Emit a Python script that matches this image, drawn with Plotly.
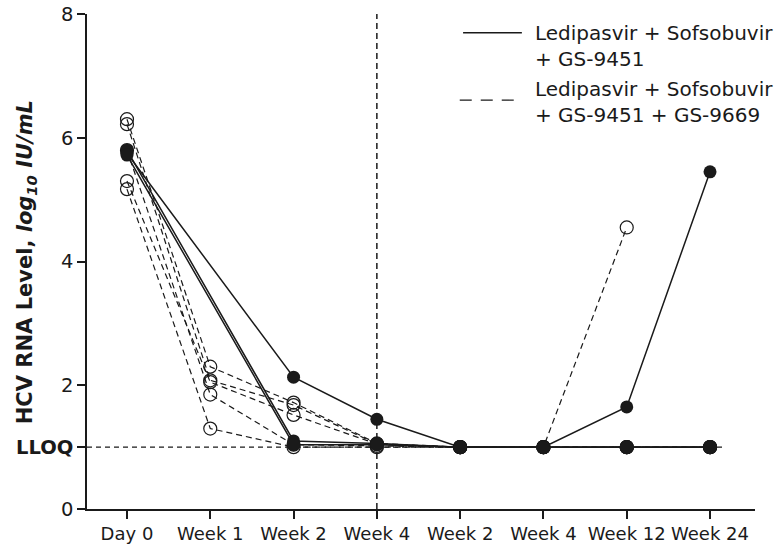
import plotly.graph_objects as go

# Visit schedule: on-treatment (Day 0 .. Week 4) then post-treatment follow-up
x_positions = [0, 1, 2, 3, 4, 5, 6, 7]
tick_labels = ["Day 0", "Week 1", "Week 2", "Week 4", "Week 2", "Week 4", "Week 12", "Week 24"]

# log10 IU/mL per patient; None = no measurement at that visit
lloq = 1.0
triple_patients = [
    [5.75, None, 2.13, 1.45, 1.0, 1.0, 1.0, 1.0],
    [5.80, None, 1.10, 1.06, 1.0, 1.0, 1.65, 5.45],
    [5.72, None, 1.04, 1.04, 1.0, 1.0, 1.0, 1.0],
]
quad_patients = [
    [6.30, 2.30, 1.72, 1.06, 1.0, 1.0, 1.0, 1.0],
    [6.22, 2.08, 1.68, 1.05, 1.0, 1.0, 4.55, None],
    [5.30, 2.05, 1.52, 1.05, 1.0, 1.0, 1.0, 1.0],
    [5.80, 1.85, 1.04, 1.02, 1.0, 1.0, 1.0, 1.0],
    [5.17, 1.30, 1.00, 1.00, 1.0, 1.0, 1.0, 1.0],
]
legend_labels = ["Ledipasvir + Sofsobuvir<br>+ GS-9451",
                 "Ledipasvir + Sofsobuvir<br>+ GS-9451 + GS-9669"]

FONT = "DejaVu Sans"
INK = "#1a1a1a"

fig = go.Figure()

# GS-9669 arm: dashed lines, open circles (drawn underneath)
for vals in quad_patients:
    fig.add_trace(go.Scatter(
        x=x_positions, y=vals, mode="lines+markers", connectgaps=True,
        line=dict(color=INK, width=1.2, dash="6px,4px"),
        marker=dict(symbol="circle-open", size=13, color=INK, line=dict(width=1.2)),
        showlegend=False, hoverinfo="skip",
    ))

# GS-9451 arm: solid lines, filled circles
for vals in triple_patients:
    fig.add_trace(go.Scatter(
        x=x_positions, y=vals, mode="lines+markers", connectgaps=True,
        line=dict(color=INK, width=1.5),
        marker=dict(symbol="circle", size=13, color=INK),
        showlegend=False, hoverinfo="skip",
    ))

# LLOQ reference line and end-of-treatment divider
fig.add_shape(type="line", xref="x", yref="y", x0=-0.48, x1=7.15, y0=lloq, y1=lloq,
              line=dict(color=INK, width=1.2, dash="5px,4px"), layer="below")
fig.add_shape(type="line", xref="x", yref="y", x0=3, x1=3, y0=0, y1=8,
              line=dict(color=INK, width=1.5, dash="6px,4px"), layer="below")

# Legend drawn by hand: line samples plus two-line labels
fig.add_shape(type="line", xref="paper", yref="paper", x0=0.563, x1=0.651, y0=0.962, y1=0.962,
              line=dict(color=INK, width=1.5))
fig.add_shape(type="line", xref="paper", yref="paper", x0=0.558, x1=0.641, y0=0.826, y1=0.826,
              line=dict(color=INK, width=1.2, dash="12px,9px"))
for ytxt, label in zip([0.936, 0.823], legend_labels):
    fig.add_annotation(xref="paper", yref="paper", x=0.668, y=ytxt, text=label,
                       showarrow=False, xanchor="left", yanchor="middle", align="left",
                       font=dict(family=FONT, size=20, color=INK))

# Y-axis title
fig.add_annotation(xref="paper", yref="paper", x=-0.091, y=0.499, textangle=-90,
                   text="<b>HCV RNA Level, <i>log<sub>10</sub> IU/mL</i></b>",
                   showarrow=False, xanchor="center", yanchor="middle",
                   font=dict(family=FONT, size=21, color=INK))

fig.update_xaxes(
    range=[-0.48, 7.54], tickmode="array", tickvals=x_positions, ticktext=tick_labels,
    showgrid=False, zeroline=False, showline=True, linecolor=INK, linewidth=1.5,
    ticks="outside", ticklen=8, tickwidth=1.5, tickcolor=INK, automargin=False,
    tickangle=0, tickfont=dict(family=FONT, size=18, color=INK),
)
fig.update_yaxes(
    range=[0, 8], tickmode="array", tickvals=[0, lloq, 2, 4, 6, 8],
    ticktext=["0", "<b>LLOQ</b>", "2", "4", "6", "8"],
    showgrid=False, zeroline=False, showline=True, linecolor=INK, linewidth=1.5,
    ticks="outside", ticklen=8, tickwidth=1.5, tickcolor=INK, automargin=False,
    tickfont=dict(family=FONT, size=19.5, color=INK),
)

fig.update_layout(
    width=780, height=552,
    margin=dict(l=87, r=25, t=14, b=43),
    plot_bgcolor="white", paper_bgcolor="white",
    showlegend=False,
)

fig.write_html("out.html")
